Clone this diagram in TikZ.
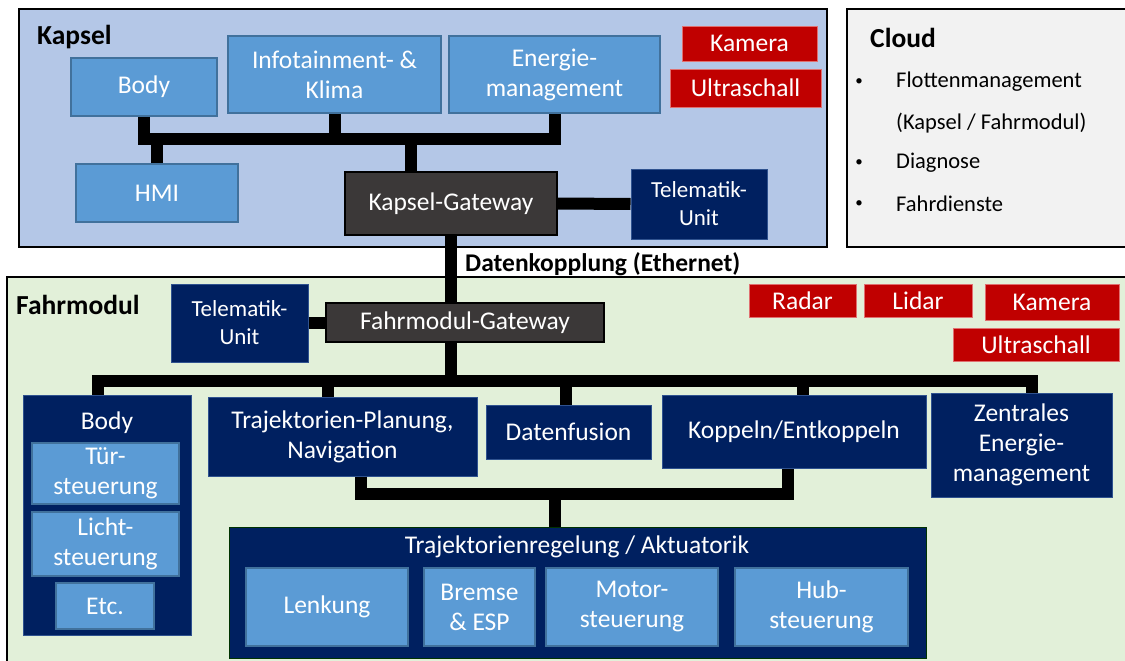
\documentclass[tikz,border=0pt]{standalone}
\usepackage{fontspec}
\setmainfont{Carlito}
\usetikzlibrary{positioning,calc}

\definecolor{kapselbg}{HTML}{B4C7E7}
\definecolor{cloudbg}{HTML}{F2F2F2}
\definecolor{fahrbg}{HTML}{E2F0D9}
\definecolor{lblue}{HTML}{5B9BD5}
\definecolor{lbborder}{HTML}{41719C}
\definecolor{navy}{HTML}{002060}
\definecolor{navyborder}{HTML}{2F528F}
\definecolor{gwgray}{HTML}{3B3838}
\definecolor{sensred}{HTML}{C00000}
\definecolor{sensborder}{HTML}{E07070}

\begin{document}
\begin{tikzpicture}[
    x=1pt, y=-1pt,
    group/.style={draw=black, line width=1.5pt, inner sep=0pt},
    box/.style={draw=lbborder, fill=lblue, text=white, line width=1.5pt, inner sep=0pt, align=center, font=\fontsize{25.5}{30}\selectfont},
    navybox/.style={draw=navyborder, fill=navy, text=white, line width=1pt, inner sep=0pt, align=center, font=\fontsize{25.5}{30}\selectfont},
    gwbox/.style={draw=black, fill=gwgray, text=white, line width=1.5pt, inner sep=0pt, align=center, font=\fontsize{25.5}{30}\selectfont},
    sensor/.style={draw=sensborder, fill=sensred, text=white, line width=0.8pt, inner sep=0pt, align=center, font=\fontsize{25.5}{30}\selectfont},
    head/.style={anchor=west, inner sep=0pt, font=\fontsize{27.5}{32}\selectfont\bfseries},
    listtxt/.style={anchor=west, inner sep=0pt, font=\fontsize{22.5}{26}\selectfont},
    dot/.style={inner sep=0pt, font=\fontsize{15}{18}\selectfont},
    bus/.style={draw=black, line width=12pt}
]

\fill[white] (0,0) rectangle (1125,661);
\useasboundingbox (0,0) rectangle (1125,661);
\clip (0,0) rectangle (1125,661);

% Kapsel
\node[group, fill=kapselbg, minimum width=808pt, minimum height=238pt] (kapsel) at (423,128) {};
\node[head] (kapseltitle) at (37,37) {Kapsel};
\node[box, minimum width=146pt, minimum height=58pt] (kbody) at (144,87) {Body};
\node[box, minimum width=213pt, minimum height=77pt] (kinfo) at (334.5,74.5) {Infotainment- \&\\Klima};
\node[box, minimum width=211pt, minimum height=77pt] (kenergie) at (554.5,74.5) {Energie-\\management};
\node[sensor, minimum width=135pt, minimum height=35pt] (kkamera) at (749.5,43.5) {Kamera};
\node[sensor, minimum width=151pt, minimum height=38pt] (kultra) at (745.5,88) {Ultraschall};
\node[box, minimum width=162pt, minimum height=58pt] (khmi) at (157,193) {HMI};
\node[gwbox, minimum width=212pt, minimum height=63pt] (kgw) at (451,203.5) {Kapsel-Gateway};
\node[navybox, minimum width=136pt, minimum height=70pt, font=\fontsize{23}{28}\selectfont] (ktele) at (699,204) {Telematik-\\Unit};

% Cloud
\node[group, fill=cloudbg, minimum width=288pt, minimum height=238pt] (cloud) at (991,128) {};
\node[head] (cloudtitle) at (870,38) {Cloud};
\node[dot] (b1) at (859,82) {\textbullet};
\node[listtxt] (c1) at (896,82) {Flottenmanagement};
\node[listtxt] (c2) at (896,123) {(Kapsel / Fahrmodul)};
\node[dot] (b3) at (859,163) {\textbullet};
\node[listtxt] (c3) at (896,163) {Diagnose};
\node[dot] (b4) at (859,204) {\textbullet};
\node[listtxt] (c4) at (896,204) {Fahrdienste};

% Fahrmodul
\node[group, fill=fahrbg, minimum width=1128pt, minimum height=393pt] (fahr) at (571,473.5) {};
\node[head] (fahrtitle) at (16,305) {Fahrmodul};
\node[head, font=\fontsize{25.5}{30}\selectfont\bfseries] (kopplung) at (465,264) {Datenkopplung (Ethernet)};
\node[navybox, minimum width=137pt, minimum height=78pt, font=\fontsize{23}{28}\selectfont] (ftele) at (239.5,323) {Telematik-\\Unit};
\node[gwbox, minimum width=278pt, minimum height=39pt] (fgw) at (465,322.5) {Fahrmodul-Gateway};
\node[sensor, minimum width=107pt, minimum height=33pt] (radar) at (802.5,300.5) {Radar};
\node[sensor, minimum width=108pt, minimum height=33pt] (lidar) at (918,300.5) {Lidar};
\node[sensor, minimum width=134pt, minimum height=36pt] (fkamera) at (1052,302) {Kamera};
\node[sensor, minimum width=166pt, minimum height=33pt] (fultra) at (1036,344.5) {Ultraschall};

% Body (Fahrmodul)
\node[navybox, minimum width=168pt, minimum height=240pt] (fbody) at (107,515) {};
\node[inner sep=0pt, text=white, font=\fontsize{25.5}{30}\selectfont] (fbodytitle) at (107,423) {Body};
\node[box, minimum width=147pt, minimum height=61pt] (tuer) at (105.5,473.5) {Tür-\\steuerung};
\node[box, minimum width=147pt, minimum height=64pt] (licht) at (105.5,544) {Licht-\\steuerung};
\node[box, minimum width=98pt, minimum height=46pt] (etc) at (105,606) {Etc.};

% Funktionen
\node[navybox, minimum width=269pt, minimum height=79pt] (traj) at (342.5,436.5) {Trajektorien-Planung,\\Navigation};
\node[navybox, minimum width=165pt, minimum height=54pt] (fusion) at (568.5,432) {Datenfusion};
\node[navybox, minimum width=264pt, minimum height=73pt] (koppeln) at (794,431.5) {Koppeln/Entkoppeln};
\node[navybox, minimum width=181pt, minimum height=104pt] (zentral) at (1021.5,445) {Zentrales\\Energie-\\management};

% Trajektorienregelung
\node[navybox, draw=black!60!green!50!black, minimum width=697pt, minimum height=131pt] (regelung) at (577.5,592.5) {};
\node[inner sep=0pt, text=white, font=\fontsize{25.5}{30}\selectfont] (regeltitle) at (577,547) {Trajektorienregelung / Aktuatorik};
\node[box, minimum width=162pt, minimum height=78pt] (lenkung) at (327,607) {Lenkung};
\node[box, minimum width=111pt, minimum height=78pt] (bremse) at (479.5,607) {Bremse\\\& ESP};
\node[box, minimum width=172pt, minimum height=78pt] (motor) at (632,607) {Motor-\\steuerung};
\node[box, minimum width=173pt, minimum height=78pt] (hub) at (821.5,607) {Hub-\\steuerung};

% Busse Kapsel
\coordinate (kbus) at (0,139);
\coordinate (kgwup) at ([xshift=-40pt]kgw.north);
\draw[bus] (kbody.south) -- (kbody.south |- kbus) -| (kenergie.south);
\draw[bus] (kinfo.south) -- (kinfo.south |- kbus);
\draw[bus] (khmi.north) -- (khmi.north |- kbus);
\draw[bus] (kgwup) -- (kgwup |- kbus);
\draw[bus] (kgw.east) -- (ktele.west);

% Datenkopplung
\draw[bus] (kgw.south) -- (kgw.south |- fgw.north);

% Busse Fahrmodul
\coordinate (fbus) at (0,381);
\coordinate (fgwdown) at ([xshift=-14pt]fgw.south);
\coordinate (fbodyup) at ([xshift=-9pt]fbody.north);
\coordinate (trajup) at ([xshift=-15pt]traj.north);
\coordinate (fusionup) at ([xshift=-3pt]fusion.north);
\coordinate (koppelnup) at ([xshift=9pt]koppeln.north);
\coordinate (zentralup) at ([xshift=10pt]zentral.north);
\draw[bus] (ftele.east |- fgw.west) -- (fgw.west);
\draw[bus] (fgwdown) -- (fgwdown |- fbus);
\draw[bus] (fbodyup) -- (fbodyup |- fbus) -- (zentralup |- fbus) -- (zentralup);
\draw[bus] (trajup) -- (trajup |- fbus);
\draw[bus] (fusionup) -- (fusionup |- fbus);
\draw[bus] (koppelnup) -- (koppelnup |- fbus);

% Regelung
\coordinate (rbus) at (0,494);
\coordinate (trajdown) at ([xshift=18pt]traj.south);
\coordinate (koppelndown) at ([xshift=-6pt]koppeln.south);
\coordinate (regelup) at ([xshift=-23pt]regelung.north);
\draw[bus] (trajdown) -- (trajdown |- rbus) -- (koppelndown |- rbus) -- (koppelndown);
\draw[bus] (regelup) -- (regelup |- rbus);

\end{tikzpicture}
\end{document}
